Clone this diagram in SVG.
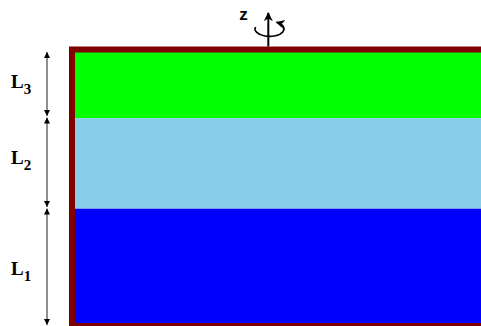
<svg xmlns="http://www.w3.org/2000/svg" width="481" height="326" viewBox="0 0 481 326">
<style>
.dim{stroke:#333;stroke-width:1.1;fill:none;marker-start:url(#ah);marker-end:url(#ah)}
.lab{font-family:"Liberation Serif",serif;font-weight:bold;font-size:19px;fill:#000}
.sub{font-size:15px}
</style>
<defs>
<marker id="ah" viewBox="0 0 10 10" refX="10" refY="5" markerWidth="6" markerHeight="6" markerUnits="userSpaceOnUse" orient="auto-start-reverse">
<path d="M0,0 L10,5 L0,10 Z" fill="#000"/>
</marker>
<marker id="ah2" viewBox="0 0 10 10" refX="9" refY="5" markerWidth="9" markerHeight="9" markerUnits="userSpaceOnUse" orient="auto">
<path d="M0,0 L10,5 L0,10 L3,5 Z" fill="#000"/>
</marker>
</defs>
<g id="layers">
<rect id="layer3" x="72" y="52" width="420" height="66.3" fill="#00FF00"/>
<rect id="layer2" x="72" y="118.3" width="420" height="90.4" fill="#87CEEB"/>
<rect id="layer1" x="72" y="208.7" width="420" height="120" fill="#0000FF"/>
<path id="frame" d="M500,49.5 H72 V326 H500" fill="none" stroke="#800000" stroke-width="6"/>
</g>
<g id="axis">
<path d="M255.5,27 A14.5,7.5 0 1 0 276.5,22.3" fill="none" stroke="#000" stroke-width="1.6" marker-end="url(#ah2)"/>
<line x1="268.3" y1="46.5" x2="268.3" y2="13" stroke="#000" stroke-width="2" marker-end="url(#ah2)"/>
<text x="243.5" y="20" font-family="Liberation Sans,sans-serif" font-weight="bold" font-size="17" text-anchor="middle">z</text>
</g>
<g id="connectors">
<line class="dim" x1="47" y1="52" x2="47" y2="116"/>
<line class="dim" x1="47" y1="117.5" x2="47" y2="207"/>
<line class="dim" x1="47" y1="208.5" x2="47" y2="325"/>
</g>
<g id="labels">
<text class="lab" x="11" y="88">L<tspan class="sub" dy="6">3</tspan></text>
<text class="lab" x="11" y="164">L<tspan class="sub" dy="6">2</tspan></text>
<text class="lab" x="11" y="275">L<tspan class="sub" dy="6">1</tspan></text>
</g>
</svg>
